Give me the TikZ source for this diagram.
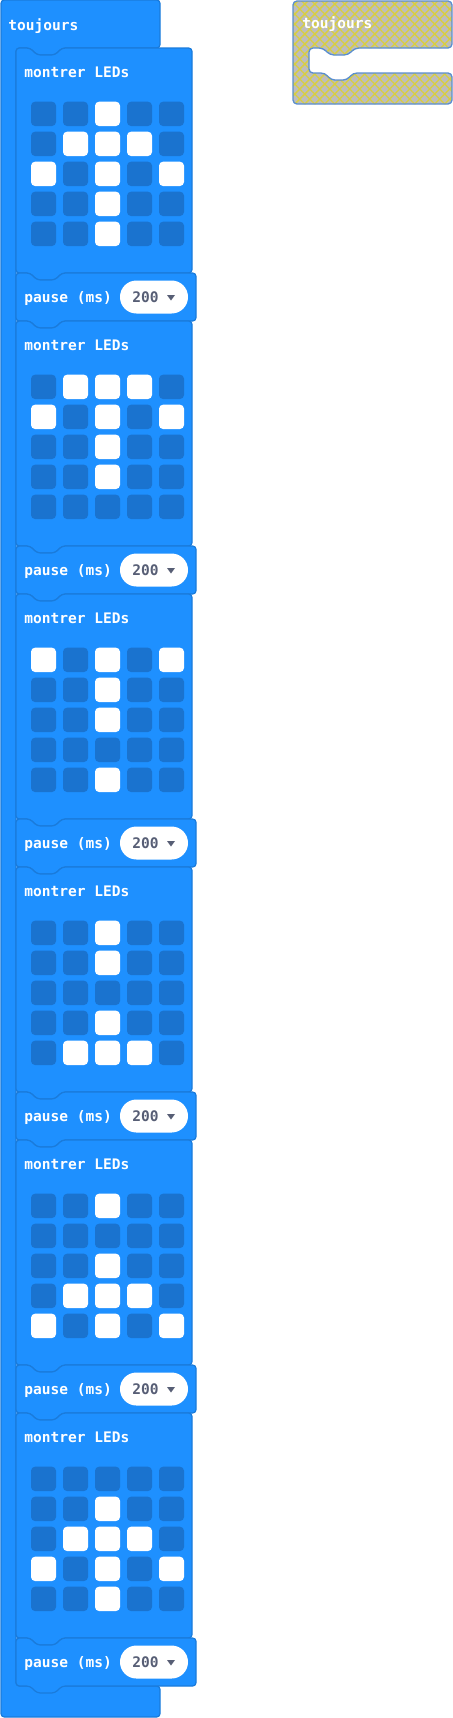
\documentclass[tikz,border=0pt]{standalone}
\usepackage{fontspec}
\setmonofont{DejaVu Sans Mono}
\usepackage{tikz}
\usetikzlibrary{patterns.meta}
\definecolor{blockblue}{HTML}{1E90FF}
\definecolor{blockedge}{HTML}{1A7BDB}
\definecolor{ledoff}{HTML}{1A73CF}
\definecolor{fieldtext}{HTML}{575E75}
\definecolor{hatchgrey}{HTML}{BDBDBD}
\definecolor{hatchyellow}{HTML}{D9CF3E}
\definecolor{hatchedge}{HTML}{5A8ED0}
\tikzset{
  blk/.style={fill=blockblue, draw=blockedge, line width=0.9, rounded corners=2.5pt},
  led0/.style={fill=ledoff, rounded corners=3pt},
  led1/.style={fill=white, rounded corners=3pt},
  lbl/.style={anchor=base west, inner sep=0pt, text=white, font=\ttfamily\bfseries\fontsize{10.9}{13}\selectfont},
}
\begin{document}
\begin{tikzpicture}[x=0.75pt,y=0.75pt,yscale=-1,xscale=1]
\useasboundingbox (0,0) rectangle (453,1718);
%Shape: toujours (outer) [id:loop]
\draw [blk] (1,0) -- (160,0) -- (160,48) -- (62,48) -- (55,55) -- (37,55) -- (30,48) -- (16,48) -- (16,1686) -- (160,1686) -- (160,1717) -- (1,1717) -- cycle ;
% Text Node
\draw (8,30) node [lbl] (loop) {toujours};
%Shapes: montrer LEDs + pause, six times
\foreach \pat [count=\i from 0] in {
  {0,0,1,0,0, 0,1,1,1,0, 1,0,1,0,1, 0,0,1,0,0, 0,0,1,0,0},
  {0,1,1,1,0, 1,0,1,0,1, 0,0,1,0,0, 0,0,1,0,0, 0,0,0,0,0},
  {1,0,1,0,1, 0,0,1,0,0, 0,0,1,0,0, 0,0,0,0,0, 0,0,1,0,0},
  {0,0,1,0,0, 0,0,1,0,0, 0,0,0,0,0, 0,0,1,0,0, 0,1,1,1,0},
  {0,0,1,0,0, 0,0,0,0,0, 0,0,1,0,0, 0,1,1,1,0, 1,0,1,0,1},
  {0,0,0,0,0, 0,0,1,0,0, 0,1,1,1,0, 1,0,1,0,1, 0,0,1,0,0}}{
  \pgfmathsetmacro\topy{48+273*\i}
  \pgfmathsetmacro\pausey{\topy+225}
  %Shape: montrer LEDs
  \draw [blk] (16,\topy) -- (30,\topy) -- (37,\topy+7) -- (55,\topy+7) -- (62,\topy) -- (192,\topy) -- (192,\topy+225) -- (62,\topy+225) -- (55,\topy+232) -- (37,\topy+232) -- (30,\topy+225) -- (16,\topy+225) -- cycle ;
  % Text Node
  \draw (24,\topy+29) node [lbl] (show\i) {montrer LEDs};
  %LED cells
  \foreach \v [count=\k from 0] in \pat {
    \pgfmathsetmacro\cx{31+32*mod(\k,5)}
    \pgfmathsetmacro\cy{\topy+53.7+30*floor(\k/5)}
    \fill [led\v] (\cx,\cy) rectangle ++(25,24.3);
  }
  %Shape: pause (ms)
  \draw [blk] (16,\pausey) -- (30,\pausey) -- (37,\pausey+7) -- (55,\pausey+7) -- (62,\pausey) -- (196,\pausey) -- (196,\pausey+48) -- (62,\pausey+48) -- (55,\pausey+55) -- (37,\pausey+55) -- (30,\pausey+48) -- (16,\pausey+48) -- cycle ;
  % Text Node
  \draw (24,\pausey+29) node [lbl] (pause\i) {pause (ms)};
  %Shape: value field
  \fill [white, rounded corners=12.3pt] (120,\pausey+7.5) rectangle (188,\pausey+40.5);
  % Text Node
  \draw (132,\pausey+29) node [lbl, text=fieldtext] (ms\i) {200};
  \fill [fieldtext] (167,\pausey+22) -- (175,\pausey+22) -- (171,\pausey+27.5) -- cycle ;
}
%Shape: toujours (disabled copy) [id:ghost]
\draw [draw=hatchedge, line width=1, rounded corners=3pt,
  preaction={fill=hatchgrey},
  preaction={pattern={Lines[angle=45,distance=5.3pt,line width=1pt]}, pattern color=hatchyellow},
  preaction={pattern={Lines[angle=-45,distance=5.3pt,line width=1pt]}, pattern color=hatchyellow}]
  (293,1) -- (452,1) -- (452,48) -- (355,48) -- (348,55) -- (330,55) -- (323,48) -- (309,48) -- (309,73) -- (325,73) -- (331,80) -- (347,80) -- (353,73) -- (452,73) -- (452,104) -- (293,104) -- cycle ;
% Text Node
\draw (302,28) node [lbl] (ghost) {toujours};
\end{tikzpicture}
\end{document}
